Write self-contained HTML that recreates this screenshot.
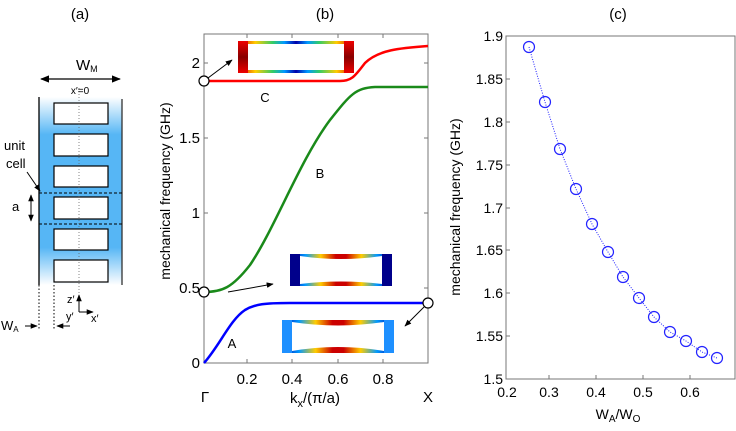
<!DOCTYPE html>
<html><head><meta charset="utf-8"><style>
body{margin:0;background:#fff}
svg{display:block;font-family:"Liberation Sans","DejaVu Sans",sans-serif}
</style></head><body>
<svg width="736" height="431" viewBox="0 0 736 431" xmlns="http://www.w3.org/2000/svg">
<defs>
<linearGradient id="bl" x1="0" y1="0" x2="0" y2="1">
<stop offset="0" stop-color="#fff"/><stop offset="0.2" stop-color="#56b6f5"/><stop offset="0.8" stop-color="#56b6f5"/><stop offset="1" stop-color="#fff"/></linearGradient>
<linearGradient id="rainbow" x1="0" y1="0" x2="1" y2="0">
<stop offset="0" stop-color="#d00"/><stop offset="0.15" stop-color="#fc0"/><stop offset="0.3" stop-color="#3c6"/><stop offset="0.4" stop-color="#09f"/><stop offset="0.5" stop-color="#00a"/><stop offset="0.6" stop-color="#09f"/><stop offset="0.7" stop-color="#3c6"/><stop offset="0.85" stop-color="#fc0"/><stop offset="1" stop-color="#d00"/></linearGradient>
<linearGradient id="rainbow2" x1="0" y1="0" x2="1" y2="0">
<stop offset="0" stop-color="#00a"/><stop offset="0.15" stop-color="#09f"/><stop offset="0.3" stop-color="#fc0"/><stop offset="0.45" stop-color="#c00"/><stop offset="0.55" stop-color="#c00"/><stop offset="0.7" stop-color="#fc0"/><stop offset="0.85" stop-color="#09f"/><stop offset="1" stop-color="#00a"/></linearGradient>
<linearGradient id="redend" x1="0" y1="0" x2="0" y2="1">
<stop offset="0" stop-color="#e00"/><stop offset="0.5" stop-color="#800"/><stop offset="1" stop-color="#e00"/></linearGradient>
<marker id="ah" viewBox="0 0 10 10" refX="9" refY="5" markerWidth="7" markerHeight="7" orient="auto-start-reverse"><path d="M0,1 L10,5 L0,9 z" fill="#000"/></marker>
</defs>
<g font-size="15" text-anchor="middle">
<text x="80" y="19">(a)</text><text x="325" y="19">(b)</text><text x="618" y="19">(c)</text>
</g>
<!-- panel a -->
<rect x="39" y="97" width="83" height="188" fill="url(#bl)"/>
<line x1="39" y1="97" x2="39" y2="285" stroke="#000" stroke-width="1.3"/>
<line x1="122" y1="99" x2="122" y2="285" stroke="#333" stroke-width="1.3"/>
<g fill="#fff" stroke="#000" stroke-width="1.2">
<rect x="54" y="103" width="54" height="21"/><rect x="54" y="134" width="54" height="22"/><rect x="54" y="166" width="54" height="21"/><rect x="54" y="197" width="54" height="22"/><rect x="54" y="229" width="54" height="21"/><rect x="54" y="260" width="54" height="22"/>
</g>
<g stroke="#000" stroke-dasharray="3,2" stroke-width="1"><line x1="39" y1="193" x2="122" y2="193"/><line x1="39" y1="224" x2="122" y2="224"/></g>
<line x1="79" y1="88" x2="79" y2="300" stroke="#666" stroke-dasharray="1,2" stroke-width="0.8"/>
<line x1="41" y1="79" x2="120" y2="79" stroke="#000" stroke-width="1.3" marker-start="url(#ah)" marker-end="url(#ah)"/>
<text x="76" y="70" font-size="15">W<tspan font-size="9" dy="2">M</tspan></text>
<text x="80" y="94" font-size="10" text-anchor="middle">x′=0</text>
<text x="4" y="150" font-size="13">unit</text><text x="6" y="168" font-size="13">cell</text>
<line x1="27" y1="172" x2="40" y2="191" stroke="#000" marker-end="url(#ah)"/>
<text x="12" y="211" font-size="13">a</text>
<line x1="31" y1="195" x2="31" y2="221" stroke="#000" marker-start="url(#ah)" marker-end="url(#ah)"/>
<g stroke="#000" stroke-dasharray="1.5,2"><line x1="39" y1="285" x2="39" y2="330"/><line x1="54" y1="285" x2="54" y2="330"/></g>
<text x="1" y="330" font-size="13">W<tspan font-size="8" dy="2">A</tspan></text>
<line x1="25" y1="326" x2="37" y2="326" stroke="#000" marker-end="url(#ah)"/>
<line x1="70" y1="326" x2="57" y2="326" stroke="#000" marker-end="url(#ah)"/>
<line x1="79" y1="312" x2="79" y2="295" stroke="#000" marker-end="url(#ah)"/>
<line x1="79" y1="312" x2="93" y2="312" stroke="#000" marker-end="url(#ah)"/>
<text x="67" y="303" font-size="11">z′</text><text x="66" y="320" font-size="11">y′</text><text x="91" y="322" font-size="11">x′</text>
<!-- panel b -->
<rect x="204" y="34" width="224" height="329" fill="none" stroke="#777" stroke-width="1"/>
<g stroke="#777"><line x1="204" y1="63" x2="208" y2="63"/><line x1="204" y1="138" x2="208" y2="138"/><line x1="204" y1="213" x2="208" y2="213"/><line x1="204" y1="288" x2="208" y2="288"/>
<line x1="424" y1="63" x2="428" y2="63"/><line x1="424" y1="138" x2="428" y2="138"/><line x1="424" y1="213" x2="428" y2="213"/><line x1="424" y1="288" x2="428" y2="288"/>
<line x1="247" y1="363" x2="247" y2="359"/><line x1="292" y1="363" x2="292" y2="359"/><line x1="338" y1="363" x2="338" y2="359"/><line x1="383" y1="363" x2="383" y2="359"/>
<line x1="247" y1="34" x2="247" y2="38"/><line x1="292" y1="34" x2="292" y2="38"/><line x1="338" y1="34" x2="338" y2="38"/><line x1="383" y1="34" x2="383" y2="38"/></g>
<g font-size="15" text-anchor="end"><text x="200" y="68">2</text><text x="200" y="143">1.5</text><text x="200" y="218">1</text><text x="200" y="293">0.5</text><text x="200" y="368">0</text></g>
<g font-size="15" text-anchor="middle"><text x="247" y="384">0.2</text><text x="292" y="384">0.4</text><text x="338" y="384">0.6</text><text x="383" y="384">0.8</text>
<text x="205" y="402">Γ</text><text x="428" y="402">X</text>
<text x="315" y="403">k<tspan font-size="11" dy="4">x</tspan><tspan dy="-4">/(π/a)</tspan></text></g>
<text transform="translate(170,191) rotate(-90)" font-size="14" text-anchor="middle">mechanical frequency (GHz)</text>
<path d="M204,81 L340,81 C352,81 355,76 365,63 C378,50 400,48 428,46" fill="none" stroke="#f00" stroke-width="2.5"/>
<path d="M204,292 C222,292 232,288 250,265 C275,228 300,160 330,120 C350,95 355,88 375,87 L428,87" fill="none" stroke="#1a8a1a" stroke-width="2.5"/>
<path d="M204,363 C220,345 230,320 245,310 C255,304 265,303 290,303 L428,303" fill="none" stroke="#00f" stroke-width="2.5"/>
<g font-size="13" text-anchor="middle"><text x="265" y="102">C</text><text x="320" y="178">B</text><text x="232" y="348">A</text></g>
<!-- insets -->
<rect x="238" y="41" width="116" height="32" fill="url(#rainbow)"/>
<rect x="238" y="41" width="10" height="32" fill="url(#redend)"/><rect x="344" y="41" width="10" height="32" fill="url(#redend)"/>
<rect x="248" y="44" width="96" height="26" fill="#fff"/>
<rect x="290" y="254" width="102" height="32" fill="url(#rainbow2)"/>
<rect x="290" y="254" width="10" height="32" fill="#00008b"/><rect x="382" y="254" width="10" height="32" fill="#00008b"/>
<path d="M300,256 Q341,262 382,256 L382,284 Q341,279 300,284 Z" fill="#fff"/>
<rect x="282" y="320" width="112" height="33" fill="url(#rainbow2)"/>
<rect x="282" y="320" width="10" height="33" fill="#1e90ff"/><rect x="384" y="320" width="10" height="33" fill="#1e90ff"/>
<path d="M292,322 Q338,329 384,322 L384,351 Q338,343 292,351 Z" fill="#fff"/>
<line x1="208" y1="78" x2="232" y2="60" stroke="#000" marker-end="url(#ah)"/>
<line x1="228" y1="292" x2="273" y2="284" stroke="#000" marker-end="url(#ah)"/>
<line x1="424" y1="307" x2="405" y2="326" stroke="#000" marker-end="url(#ah)"/>
<g fill="#fff" stroke="#000" stroke-width="1.2"><circle cx="204" cy="81" r="5"/><circle cx="204" cy="292" r="5"/><circle cx="428" cy="303" r="5"/></g>
<!-- panel c -->
<rect x="506" y="36" width="229" height="343" fill="none" stroke="#777"/>
<g stroke="#777">
<line x1="506" y1="79" x2="510" y2="79"/><line x1="506" y1="122" x2="510" y2="122"/><line x1="506" y1="165" x2="510" y2="165"/><line x1="506" y1="208" x2="510" y2="208"/><line x1="506" y1="250" x2="510" y2="250"/><line x1="506" y1="293" x2="510" y2="293"/><line x1="506" y1="336" x2="510" y2="336"/>
<line x1="549" y1="379" x2="549" y2="375"/><line x1="596" y1="379" x2="596" y2="375"/><line x1="643" y1="379" x2="643" y2="375"/><line x1="690" y1="379" x2="690" y2="375"/>
</g>
<g font-size="14" text-anchor="end"><text x="503" y="41">1.9</text><text x="503" y="84">1.85</text><text x="503" y="127">1.8</text><text x="503" y="170">1.75</text><text x="503" y="213">1.7</text><text x="503" y="255">1.65</text><text x="503" y="298">1.6</text><text x="503" y="341">1.55</text><text x="503" y="384">1.5</text></g>
<g font-size="14" text-anchor="middle"><text x="507" y="397">0.2</text><text x="549" y="397">0.3</text><text x="596" y="397">0.4</text><text x="643" y="397">0.5</text><text x="690" y="397">0.6</text>
<text x="618" y="419">W<tspan font-size="10" dy="3">A</tspan><tspan dy="-3">/W</tspan><tspan font-size="10" dy="3">O</tspan></text></g>
<text transform="translate(460,207) rotate(-90)" font-size="14" text-anchor="middle">mechanical frequency (GHz)</text>
<polyline points="529,47 545,102 560,149 576,189 592,224 608,252 623,277 639,298 654,317 670,332 686,341 702,352 717,358" fill="none" stroke="#22f" stroke-dasharray="1,1.5" stroke-width="1"/>
<g fill="none" stroke="#22f" stroke-width="1.2">
<circle cx="529" cy="47" r="5.5"/><circle cx="545" cy="102" r="5.5"/><circle cx="560" cy="149" r="5.5"/><circle cx="576" cy="189" r="5.5"/><circle cx="592" cy="224" r="5.5"/><circle cx="608" cy="252" r="5.5"/><circle cx="623" cy="277" r="5.5"/><circle cx="639" cy="298" r="5.5"/><circle cx="654" cy="317" r="5.5"/><circle cx="670" cy="332" r="5.5"/><circle cx="686" cy="341" r="5.5"/><circle cx="702" cy="352" r="5.5"/><circle cx="717" cy="358" r="5.5"/>
</g>
</svg>
</body></html>
